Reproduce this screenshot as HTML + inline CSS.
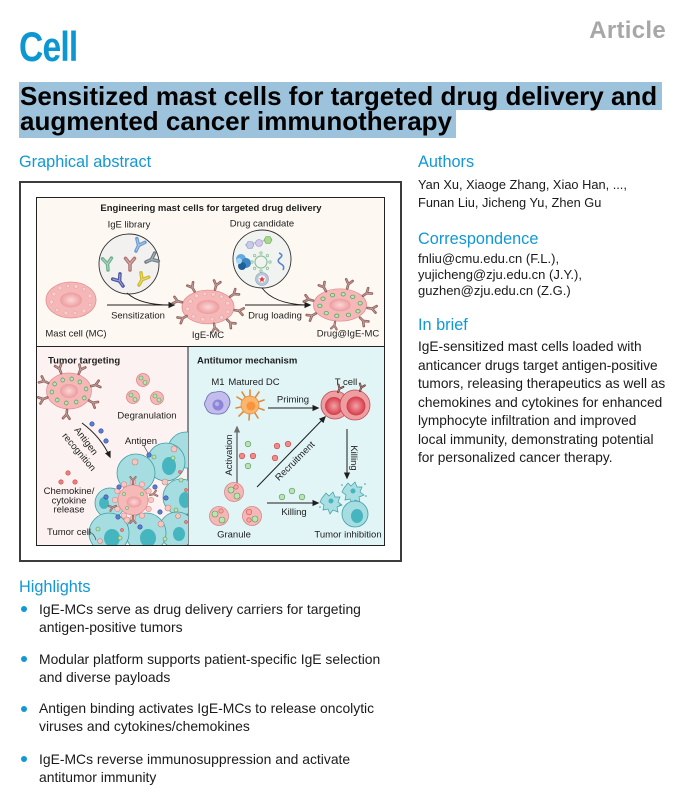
<!DOCTYPE html>
<html><head><meta charset="utf-8"><style>
*{margin:0;padding:0;box-sizing:border-box}
html,body{width:696px;height:806px;background:#fff;overflow:hidden}
body{position:relative;font-family:"Liberation Sans",Arial,sans-serif;color:#1a1a1a}
.a{position:absolute;white-space:nowrap}
.h{color:#1198d5;font-size:16.3px;line-height:20px}
.t{font-size:12.8px;line-height:18px;color:#1a1a1a}
.e{font-size:13px;line-height:16.2px;color:#1a1a1a}
.b{font-size:13.7px;line-height:18.5px;color:#1a1a1a}
.hl{font-size:13.9px;line-height:18px;color:#1a1a1a;left:39px}
.dot{position:absolute;left:21px;width:6px;height:6px;border-radius:50%;background:#1198d5}
svg text{font-family:"Liberation Sans",Arial,sans-serif;font-size:9.5px;fill:#1e1e1e}
</style></head><body>

<div class="a" style="left:19px;top:26.4px;font-size:42px;line-height:42px;font-weight:bold;color:#0c97d3;transform:scaleX(0.8);transform-origin:0 0;letter-spacing:-1px">Cell</div>
<div class="a" style="right:30px;top:18.7px;font-size:24px;line-height:24px;font-weight:bold;color:#a7a7a7;letter-spacing:0.3px">Article</div>

<div class="a" style="left:19px;top:82px;width:643px;height:28px;background:#9dc3dc"></div>
<div class="a" style="left:19px;top:110px;width:437px;height:28px;background:#9dc3dc"></div>
<div class="a" style="left:20px;top:83.5px;font-size:26px;line-height:25px;font-weight:bold;color:#000">Sensitized mast cells for targeted drug delivery and<br>augmented cancer immunotherapy</div>

<div class="a h" style="left:19px;top:152.4px">Graphical abstract</div>

<div class="a h" style="left:418px;top:152.4px">Authors</div>
<div class="a t" style="left:418px;top:175.6px">Yan Xu, Xiaoge Zhang, Xiao Han, ...,<br>Funan Liu, Jicheng Yu, Zhen Gu</div>
<div class="a h" style="left:418px;top:228.9px">Correspondence</div>
<div class="a e" style="left:418px;top:250.7px">fnliu@cmu.edu.cn (F.L.),<br>yujicheng@zju.edu.cn (J.Y.),<br>guzhen@zju.edu.cn (Z.G.)</div>
<div class="a h" style="left:418px;top:315.4px">In brief</div>
<div class="a b" style="left:418px;top:338.3px">IgE-sensitized mast cells loaded with<br>anticancer drugs target antigen-positive<br>tumors, releasing therapeutics as well as<br>chemokines and cytokines for enhanced<br>lymphocyte infiltration and improved<br>local immunity, demonstrating potential<br>for personalized cancer therapy.</div>

<div class="a h" style="left:19px;top:577px">Highlights</div>
<div class="dot" style="top:606px"></div>
<div class="a hl" style="top:599.5px">IgE-MCs serve as drug delivery carriers for targeting<br>antigen-positive tumors</div>
<div class="dot" style="top:656px"></div>
<div class="a hl" style="top:649.5px">Modular platform supports patient-specific IgE selection<br>and diverse payloads</div>
<div class="dot" style="top:706px"></div>
<div class="a hl" style="top:699.3px">Antigen binding activates IgE-MCs to release oncolytic<br>viruses and cytokines/chemokines</div>
<div class="dot" style="top:756px"></div>
<div class="a hl" style="top:749.5px">IgE-MCs reverse immunosuppression and activate<br>antitumor immunity</div>

<svg class="a" style="left:0;top:0" width="696" height="806" viewBox="0 0 696 806">
<defs>
<marker id="ah" viewBox="0 0 10 10" refX="8" refY="5" markerWidth="7" markerHeight="7" markerUnits="userSpaceOnUse" orient="auto"><path d="M0,0.5 L10,5 L0,9.5z" fill="#1e1e1e"/></marker>
<marker id="ahg" viewBox="0 0 10 10" refX="8" refY="5" markerWidth="7" markerHeight="7" markerUnits="userSpaceOnUse" orient="auto"><path d="M0,0.5 L10,5 L0,9.5z" fill="#6e6e6e"/></marker>
<radialGradient id="nuc"><stop offset="0" stop-color="#fcd6d6"/><stop offset="1" stop-color="#ec9c9e"/></radialGradient>
<radialGradient id="tc"><stop offset="0" stop-color="#f7a0a5"/><stop offset="1" stop-color="#d23c4a"/></radialGradient>
<clipPath id="clipL"><rect x="37" y="347" width="151" height="198"/></clipPath>
<g id="yab">
<path d="M0,0V-4.5M0,-4.5L-3.3,-8.6M0,-4.5L3.3,-8.6" stroke="currentColor" stroke-width="2.6" stroke-linecap="round" fill="none"/>
<path d="M0,0V-4.5M0,-4.5L-3.3,-8.6M0,-4.5L3.3,-8.6" stroke="#fff" stroke-opacity="0.45" stroke-width="0.8" fill="none"/>
</g>
<g id="mc">
<ellipse cx="0" cy="0" rx="25" ry="18" fill="#f5b7b7" stroke="#e0908f" stroke-width="0.8"/>
<ellipse cx="0" cy="0" rx="11" ry="7.5" fill="url(#nuc)"/>
<g fill="#f9d0d0" stroke="#e6a2a2" stroke-width="0.6">
<circle cx="-17" cy="-6" r="2"/><circle cx="-11" cy="-12" r="2"/><circle cx="-3" cy="-14" r="1.8"/><circle cx="5" cy="-13.5" r="2"/><circle cx="13" cy="-11" r="1.8"/><circle cx="19" cy="-4" r="2"/><circle cx="19" cy="5" r="1.8"/><circle cx="13" cy="11" r="2"/><circle cx="4" cy="13" r="1.8"/><circle cx="-5" cy="13" r="2"/><circle cx="-14" cy="10" r="1.8"/><circle cx="-19.5" cy="2" r="2"/>
</g>
</g>
<g id="mcd">
<ellipse cx="0" cy="0" rx="25" ry="18" fill="#f5b7b7" stroke="#e0908f" stroke-width="0.8"/>
<ellipse cx="0" cy="0" rx="10" ry="7" fill="url(#nuc)"/>
<g fill="#bde3b5" stroke="#4f9a55" stroke-width="0.7">
<circle cx="-16" cy="-7" r="2"/><circle cx="-7" cy="-11" r="2"/><circle cx="3" cy="-12" r="2"/><circle cx="12" cy="-9" r="2"/><circle cx="19" cy="-2" r="2"/><circle cx="17" cy="7" r="2"/><circle cx="8" cy="11" r="2"/><circle cx="-3" cy="12" r="2"/><circle cx="-13" cy="9" r="2"/><circle cx="-19" cy="1" r="2"/>
</g>
</g>
</defs>

<!-- frame -->
<rect x="20" y="182" width="381" height="379" fill="#fff" stroke="#3c3c3c" stroke-width="2"/>
<rect x="36.5" y="197.5" width="348" height="149" fill="#fdf8f2" stroke="#222" stroke-width="1"/>
<rect x="36.5" y="346.5" width="151.5" height="199" fill="#fcf2f1" stroke="#222" stroke-width="1"/>
<rect x="188" y="346.5" width="196.5" height="199" fill="#e1f4f6" stroke="#222" stroke-width="1"/>

<!-- TOP PANEL -->
<text x="211" y="211" text-anchor="middle" font-weight="bold">Engineering mast cells for targeted drug delivery</text>
<text x="129" y="227.5" text-anchor="middle">IgE library</text>
<text x="262" y="226.6" text-anchor="middle">Drug candidate</text>

<circle cx="129" cy="264" r="30" fill="#f3f0f0" stroke="#333" stroke-width="0.9"/>
<use href="#yab" style="color:#6a9bd0" transform="translate(136,251) rotate(25) scale(1.35)"/>
<use href="#yab" style="color:#6fb08f" transform="translate(108,270) rotate(-5) scale(1.35)"/>
<use href="#yab" style="color:#b0736f" transform="translate(130,270) rotate(0) scale(1.35)"/>
<use href="#yab" style="color:#6e7e86" transform="translate(146,262) rotate(65) scale(1.35)"/>
<use href="#yab" style="color:#4f56a4" transform="translate(123,286) rotate(-35) scale(1.35)"/>
<use href="#yab" style="color:#cfbb2e" transform="translate(139,285) rotate(30) scale(1.35)"/>

<circle cx="262" cy="259" r="29" fill="#f1f3f0" stroke="#333" stroke-width="0.9"/>
<path d="M245,245 L272,239" stroke="#8aa" stroke-width="0.8"/>
<polygon points="246,245 248,241.5 252,241.5 254,245 252,248.5 248,248.5" fill="#c7c9e8" stroke="#8f93c0" stroke-width="0.6"/>
<circle cx="259" cy="243" r="3.5" fill="#d4c8ec" stroke="#9a90c0" stroke-width="0.6"/>
<polygon points="264,240 266,236.5 270,236.5 272,240 270,243.5 266,243.5" fill="#a6d98f" stroke="#6aa050" stroke-width="0.6"/>
<circle cx="241" cy="259" r="5" fill="#63a9df"/><circle cx="246" cy="263" r="5" fill="#3c86c4"/><circle cx="242" cy="266" r="4" fill="#1e5f9a"/><circle cx="239" cy="261" r="3" fill="#a9d3f0"/>
<circle cx="261" cy="262" r="6" fill="none" stroke="#8cbf9c" stroke-width="1.2"/>
<g fill="none" stroke="#8cbf9c" stroke-width="0.8"><circle cx="261" cy="253" r="1.2"/><circle cx="270" cy="262" r="1.2"/><circle cx="261" cy="271" r="1.2"/><circle cx="252" cy="262" r="1.2"/><circle cx="267.4" cy="255.6" r="1.2"/><circle cx="254.6" cy="255.6" r="1.2"/><circle cx="267.4" cy="268.4" r="1.2"/><circle cx="254.6" cy="268.4" r="1.2"/></g>
<path d="M279,253 q5,2 1,5 q-4,3 1,6 q4,2 2,6" stroke="#5b86c8" stroke-width="1.6" fill="none"/>
<circle cx="262" cy="279" r="6.5" fill="#b9c8d8" stroke="#8ca0b8" stroke-width="0.6"/>
<circle cx="262" cy="279" r="3.6" fill="#fff"/>
<polygon points="262,276 263,278.3 265,278.5 263.5,280 264,282 262,281 260,282 260.5,280 259,278.5 261,278.3" fill="#e04040"/>

<use href="#mc" transform="translate(71,300)"/>
<line x1="107" y1="305" x2="174" y2="305" stroke="#1e1e1e" stroke-width="1" marker-end="url(#ah)"/>
<path d="M127,293 Q140,305 170,305" stroke="#1e1e1e" stroke-width="0.9" fill="none"/>
<text x="76" y="336.6" text-anchor="middle">Mast cell (MC)</text>
<text x="138" y="318.3" text-anchor="middle">Sensitization</text>

<use href="#mc" transform="translate(208,307) scale(1.04,0.94)"/>
<g style="color:#94625d">
<use href="#yab" transform="translate(194.5,291.4) rotate(-30)"/>
<use href="#yab" transform="translate(215,289.6) rotate(15)"/>
<use href="#yab" transform="translate(230.1,296.7) rotate(55)"/>
<use href="#yab" transform="translate(234.6,310.1) rotate(100)"/>
<use href="#yab" transform="translate(227.1,319.7) rotate(135)"/>
<use href="#yab" transform="translate(214,323.5) rotate(170) scale(0.9)"/>
<use href="#yab" transform="translate(186.6,316) rotate(240)"/>
<use href="#yab" transform="translate(181.9,302.3) rotate(285)"/>
</g>
<text x="208" y="338" text-anchor="middle">IgE-MC</text>

<line x1="245" y1="305" x2="310" y2="305" stroke="#1e1e1e" stroke-width="1" marker-end="url(#ah)"/>
<path d="M262,288 Q274,304 306,305" stroke="#1e1e1e" stroke-width="0.9" fill="none"/>
<text x="275" y="318.3" text-anchor="middle">Drug loading</text>

<use href="#mcd" transform="translate(340,305) scale(1.06,0.9)"/>
<g style="color:#94625d">
<use href="#yab" transform="translate(326,291.1) rotate(-30)"/>
<use href="#yab" transform="translate(347.2,288.5) rotate(15)"/>
<use href="#yab" transform="translate(363,295.8) rotate(55)"/>
<use href="#yab" transform="translate(367.6,307.9) rotate(100)"/>
<use href="#yab" transform="translate(360,317.7) rotate(135)"/>
<use href="#yab" transform="translate(335.1,321.7) rotate(190) scale(0.85)"/>
<use href="#yab" transform="translate(315.8,313.5) rotate(240)"/>
<use href="#yab" transform="translate(313,300.6) rotate(285)"/>
</g>
<text x="348" y="336.5" text-anchor="middle">Drug@IgE-MC</text>

<!-- BOTTOM LEFT -->
<text x="48" y="363.3" font-weight="bold">Tumor targeting</text>
<use href="#mcd" transform="translate(69,391) scale(0.9,1)"/>
<g style="color:#94625d">
<use href="#yab" transform="translate(61.1,373.1) rotate(-20)"/>
<use href="#yab" transform="translate(78.7,373.8) rotate(25)"/>
<use href="#yab" transform="translate(91.2,386.1) rotate(75)"/>
<use href="#yab" transform="translate(88.9,400.5) rotate(120)"/>
<use href="#yab" transform="translate(67,409.9) rotate(185)"/>
<use href="#yab" transform="translate(47.4,397.5) rotate(250)"/>
<use href="#yab" transform="translate(48.2,383) rotate(295)"/>
</g>
<g fill="#f6b8b6" stroke="#d98585" stroke-width="0.8">
<circle cx="143" cy="380" r="6.5"/><circle cx="133" cy="397" r="6.5"/><circle cx="157" cy="398" r="6.5"/>
</g>
<g fill="#bde3b5" stroke="#4f9a55" stroke-width="0.6">
<circle cx="141" cy="378" r="2"/><circle cx="145" cy="382.5" r="2"/><circle cx="131" cy="395" r="2"/><circle cx="135" cy="399.5" r="2"/><circle cx="155" cy="396" r="2"/><circle cx="159" cy="400" r="2"/>
</g>
<text x="147" y="418.5" text-anchor="middle">Degranulation</text>

<path d="M82,423 Q101,437 110,457" stroke="#1e1e1e" stroke-width="1" fill="none" marker-end="url(#ah)"/>
<text transform="translate(86,441) rotate(53)" text-anchor="middle" dy="3">Antigen</text>
<text transform="translate(79,452) rotate(50)" text-anchor="middle" dy="3">recognition</text>

<g fill="#f08080" stroke="#c04848" stroke-width="0.6">
<circle cx="68" cy="473" r="2.2"/><circle cx="61" cy="482" r="2.2"/><circle cx="75" cy="482" r="2.2"/>
</g>
<text x="69" y="494" text-anchor="middle">Chemokine/</text>
<text x="69" y="503.3" text-anchor="middle">cytokine</text>
<text x="69" y="512.3" text-anchor="middle">release</text>

<g clip-path="url(#clipL)">
<g fill="#a6dde0" stroke="#3e9ea6" stroke-width="0.8">
<circle cx="186" cy="450" r="18"/>
<circle cx="181" cy="497" r="18"/>
<circle cx="177" cy="530" r="18"/>
<circle cx="166" cy="462" r="19"/>
<circle cx="136" cy="473" r="19"/>
<circle cx="110" cy="503" r="15"/>
<circle cx="146" cy="533" r="20"/>
<circle cx="109" cy="533" r="20"/>
</g>
<g fill="#45b5bf">
<ellipse cx="169" cy="466" rx="7" ry="9"/>
<ellipse cx="185" cy="500" rx="6" ry="8"/>
<ellipse cx="148" cy="538" rx="8" ry="9"/>
<ellipse cx="112" cy="538" rx="8" ry="9"/>
<ellipse cx="179" cy="534" rx="6" ry="7"/>
<ellipse cx="104" cy="503" rx="5" ry="6"/>
</g>
<g fill="#f3c8c0" stroke="#c88080" stroke-width="0.6">
<circle cx="135" cy="462" r="3"/><circle cx="165" cy="482" r="3"/><circle cx="174" cy="449" r="3"/><circle cx="168" cy="508" r="3"/><circle cx="161" cy="524" r="3"/><circle cx="127" cy="520" r="3"/><circle cx="100" cy="541" r="2.5"/><circle cx="178" cy="516" r="2.5"/>
</g>
<g fill="#bde3b5" stroke="#4f9a55" stroke-width="0.6">
<circle cx="154" cy="457" r="2"/><circle cx="173" cy="458" r="2"/><circle cx="181" cy="480" r="2"/><circle cx="176" cy="510" r="2"/><circle cx="98" cy="529" r="2"/><circle cx="165" cy="539" r="2"/><circle cx="120" cy="538" r="2"/>
</g>
<g fill="#f08080" stroke="#c04848" stroke-width="0.5">
<circle cx="180" cy="472" r="1.6"/><circle cx="186" cy="490" r="1.6"/><circle cx="122" cy="530" r="1.6"/><circle cx="186" cy="522" r="1.6"/>
</g>
<g fill="#f8c6c4" stroke="#d98a88" stroke-width="0.6">
<circle cx="151" cy="500" r="2.7"/><circle cx="148.6" cy="509" r="2.7"/><circle cx="142" cy="515.6" r="2.7"/><circle cx="133" cy="518" r="2.7"/><circle cx="124" cy="515.6" r="2.7"/><circle cx="117.4" cy="509" r="2.7"/><circle cx="115" cy="500" r="2.7"/><circle cx="117.4" cy="491" r="2.7"/><circle cx="124" cy="484.4" r="2.7"/><circle cx="133" cy="482" r="2.7"/><circle cx="142" cy="484.4" r="2.7"/><circle cx="148.6" cy="491" r="2.7"/>
</g>
<circle cx="133" cy="500" r="15" fill="#f6b9b7" stroke="#d99090" stroke-width="0.7"/>
<ellipse cx="134" cy="502" rx="7.5" ry="5.5" fill="url(#nuc)"/>
<g fill="#bde3b5" stroke="#4f9a55" stroke-width="0.5"><circle cx="124" cy="494" r="1.6"/><circle cx="142" cy="494" r="1.6"/><circle cx="127" cy="508" r="1.6"/></g>
<g style="color:#94625d">
<use href="#yab" transform="translate(133,484) rotate(0) scale(0.8)"/>
<use href="#yab" transform="translate(150,495) rotate(75) scale(0.8)"/>
<use href="#yab" transform="translate(133,516) rotate(180) scale(0.8)"/>
<use href="#yab" transform="translate(116,506) rotate(250) scale(0.8)"/>
</g>
<g fill="#5b7fd0" stroke="#2a4a9a" stroke-width="0.6">
<circle cx="149" cy="455" r="2.2"/><circle cx="155" cy="487" r="2.2"/><circle cx="106" cy="497" r="2.2"/><circle cx="119" cy="487" r="2.2"/><circle cx="166" cy="498" r="2.2"/><circle cx="118" cy="517" r="2.2"/><circle cx="140" cy="527" r="2.2"/><circle cx="160" cy="512" r="2.2"/>
</g>
</g>
<g fill="#5b7fd0" stroke="#2a4a9a" stroke-width="0.6">
<circle cx="92" cy="424" r="2.2"/><circle cx="101" cy="431" r="2.2"/><circle cx="106" cy="441" r="2.2"/>
</g>
<line x1="144" y1="446" x2="148" y2="453" stroke="#333" stroke-width="0.6"/>
<text x="141" y="444" text-anchor="middle">Antigen</text>
<text x="47" y="535">Tumor cell</text>
<path d="M89,532 Q94,533 96,540" stroke="#333" stroke-width="0.6" fill="none"/>

<!-- BOTTOM RIGHT -->
<text x="197" y="363.3" font-weight="bold">Antitumor mechanism</text>
<text x="218" y="385" text-anchor="middle">M1</text>
<text x="254" y="385" text-anchor="middle">Matured DC</text>
<text x="346" y="385" text-anchor="middle">T cell</text>

<path d="M206,400 q2,-8 10,-8 q8,-2 12,4 q4,6 0,12 q-3,7 -12,6 q-8,0 -10,-6 q-3,-4 0,-8z" fill="#c2bdec" stroke="#6d67b4" stroke-width="0.8"/>
<circle cx="218" cy="405" r="5.5" fill="#8d85d6"/>
<circle cx="217" cy="404" r="2.2" fill="#b8b2ec"/>
<g stroke="#e08a3c" stroke-width="1.6" stroke-linecap="round">
<line x1="250" y1="405" x2="250" y2="390"/><line x1="250" y1="405" x2="259" y2="392"/><line x1="250" y1="405" x2="264" y2="400"/><line x1="250" y1="405" x2="264" y2="410"/><line x1="250" y1="405" x2="258" y2="418"/><line x1="250" y1="405" x2="249" y2="420"/><line x1="250" y1="405" x2="239" y2="416"/><line x1="250" y1="405" x2="236" y2="408"/><line x1="250" y1="405" x2="237" y2="397"/><line x1="250" y1="405" x2="242" y2="392"/>
</g>
<circle cx="250" cy="405" r="9" fill="#fbb66e" stroke="#e0883a" stroke-width="0.7"/>
<circle cx="251" cy="406" r="4.5" fill="#f7953f"/>

<line x1="268" y1="408" x2="318" y2="408" stroke="#1e1e1e" stroke-width="1" marker-end="url(#ah)"/>
<text x="293" y="402.6" text-anchor="middle">Priming</text>

<circle cx="335" cy="405" r="14" fill="#ee9da0" stroke="#c14a55" stroke-width="0.8"/>
<circle cx="334" cy="406" r="9" fill="url(#tc)"/>
<circle cx="355" cy="405" r="15" fill="#ee9da0" stroke="#c14a55" stroke-width="0.8"/>
<circle cx="356" cy="406" r="9.5" fill="url(#tc)"/>
<g style="color:#6b3b38">
<use href="#yab" transform="translate(338,392) rotate(25) scale(0.8)"/>
<use href="#yab" transform="translate(360,391) rotate(20) scale(0.8)"/>
</g>

<line x1="347" y1="429" x2="347" y2="478" stroke="#1e1e1e" stroke-width="1" marker-end="url(#ah)"/>
<text transform="translate(354,458) rotate(90)" text-anchor="middle" dy="3">Killing</text>

<line x1="237" y1="483" x2="237" y2="427" stroke="#7a7a7a" stroke-width="1.6" marker-end="url(#ahg)"/>
<text transform="translate(229,455) rotate(-90)" text-anchor="middle" dy="3">Activation</text>

<line x1="257" y1="487" x2="325" y2="417" stroke="#1e1e1e" stroke-width="1" marker-end="url(#ah)"/>
<text transform="translate(295,461) rotate(-45)" text-anchor="middle" dy="3">Recruitment</text>

<g fill="#f28a8a" stroke="#c44848" stroke-width="0.6">
<circle cx="242" cy="456" r="2.8"/><circle cx="253" cy="456" r="2.8"/><circle cx="277" cy="446" r="2.8"/><circle cx="288" cy="444" r="2.8"/><circle cx="275" cy="458" r="2.8"/>
</g>
<g fill="#bde3b5" stroke="#4f9a55" stroke-width="0.6">
<circle cx="248" cy="444" r="2.8"/><circle cx="248" cy="466" r="2.8"/><circle cx="282" cy="497" r="2.8"/><circle cx="292" cy="491" r="2.8"/><circle cx="302" cy="497" r="2.8"/>
</g>

<g fill="#f6b8b6" stroke="#d98585" stroke-width="0.8">
<circle cx="234" cy="492" r="9.5"/><circle cx="219" cy="516" r="9.5"/><circle cx="252" cy="516" r="9.5"/>
</g>
<g fill="#bde3b5" stroke="#4f9a55" stroke-width="0.6">
<circle cx="231" cy="490" r="3"/><circle cx="237" cy="496" r="3"/><circle cx="215" cy="514" r="3"/><circle cx="222" cy="520" r="3"/><circle cx="255" cy="519" r="3"/>
</g>
<g fill="#f7a6a4" stroke="#c85a5a" stroke-width="0.6">
<circle cx="236" cy="487" r="2.2"/><circle cx="221" cy="511" r="2.2"/><circle cx="249" cy="512" r="2.8"/><circle cx="249" cy="520" r="2.2"/>
</g>
<text x="234" y="537.3" text-anchor="middle">Granule</text>

<line x1="267" y1="503" x2="318" y2="503" stroke="#1e1e1e" stroke-width="1" marker-end="url(#ah)"/>
<text x="294" y="515" text-anchor="middle">Killing</text>

<path d="M322,498 l4,-5 l3,3 l4,-4 l2,5 l5,0 l-2,5 l4,3 l-5,2 l1,5 l-5,-2 l-3,4 l-2,-5 l-5,1 l1,-5 l-4,-3z" fill="#a9dfe3" stroke="#3e9ea6" stroke-width="0.7"/>
<circle cx="331" cy="501" r="2.5" fill="#45b5bf"/>
<path d="M344,488 l4,-5 l3,3 l4,-4 l2,5 l5,0 l-2,5 l4,3 l-5,2 l1,5 l-5,-2 l-3,4 l-2,-5 l-5,1 l1,-5 l-4,-3z" fill="#a9dfe3" stroke="#3e9ea6" stroke-width="0.7"/>
<circle cx="353" cy="491" r="2.5" fill="#45b5bf"/>
<g fill="#3e9ea6"><circle cx="342" cy="485" r="0.8"/><circle cx="365" cy="484" r="0.8"/><circle cx="320" cy="507" r="0.8"/><circle cx="340" cy="505" r="0.8"/><circle cx="366" cy="496" r="0.8"/></g>
<circle cx="355" cy="514" r="13" fill="#a6dde0" stroke="#3e9ea6" stroke-width="0.8"/>
<ellipse cx="357" cy="516" rx="6" ry="7" fill="#45b5bf"/>
<text x="348" y="537.3" text-anchor="middle">Tumor inhibition</text>
</svg>
</body></html>
